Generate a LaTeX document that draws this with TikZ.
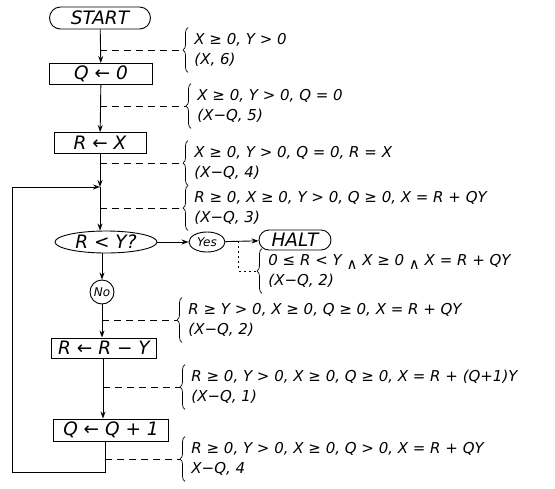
\documentclass[tikz,border=0pt]{standalone}
\usepackage{fontspec}
\setmainfont{DejaVu Sans}
\usetikzlibrary{arrows.meta,shapes.misc,shapes.geometric,decorations.pathreplacing}

% two lines of an assertion
\newcommand{\assert}[2]{\begin{tabular}{@{\hspace{11pt}}l@{}}#1\\#2\end{tabular}}
\newcommand{\wedgelow}{\raisebox{-4pt}{∧}}

\begin{document}
\begin{tikzpicture}[
  x=1pt,
  y=-1pt,
  line width=0.9pt,
  flow/.style={-{Stealth[length=7pt,width=5pt]}},
  box/.style={draw, minimum height=21pt, inner sep=2pt,
    font=\fontsize{18.5}{20}\selectfont\itshape},
  term/.style={draw, rounded rectangle, minimum height=22pt, inner sep=2pt,
    font=\fontsize{18.5}{20}\selectfont\itshape},
  test/.style={draw, ellipse, inner sep=0pt,
    font=\fontsize{18.5}{20}\selectfont\itshape},
  note/.style={anchor=west, inner sep=0pt,
    font=\fontsize{15}{20}\selectfont\itshape},
  noteline/.style={line width=0.7pt, dash pattern=on 7pt off 5pt},
  curly/.style={line width=0.7pt, decorate,
    decoration={brace, amplitude=5pt}}
]
  \useasboundingbox (0,0) rectangle (555,488);

  % flowchart
  \node[term, minimum width=105pt] (start) at (100,18) {START};
  \node[box, minimum width=103pt] (qzero) at (101,74) {Q ← 0};
  \node[box, minimum width=92pt] (rx) at (100,143) {R ← X};
  \coordinate (join) at (100,187);
  \node[test, minimum width=102pt, minimum height=22pt] (rlessy) at (106,242) {R < Y?};
  \node[test, minimum width=36pt, minimum height=20pt, font=\fontsize{12}{12}\selectfont\itshape] (yes) at (207,242) {Yes};
  \node[term, minimum width=76pt, minimum height=20pt] (halt) at (295,240) {HALT};
  \node[draw, circle, minimum size=24pt, inner sep=0pt, font=\fontsize{12}{12}\selectfont\itshape] (no) at (102,292) {No};
  \node[box, minimum width=105pt, minimum height=20pt] (rminus) at (104,348) {R ← R − Y};
  \node[box, minimum width=115pt, minimum height=22pt] (qplus) at (111,430) {Q ← Q + 1};
  \coordinate (loopbr) at (105,472);
  \coordinate (loopbl) at (12,472);
  \coordinate (looptl) at (12,187);

  \draw[flow] (start) -- (qzero);
  \draw[flow] (qzero) -- (rx);
  \draw[flow] (rx) -- (join);
  \draw[flow] (join) -- (join |- rlessy.north);
  \draw[flow] (rlessy) -- (yes);
  \draw[flow] (yes) -- (halt) coordinate[pos=0.4] (yh);
  \draw[flow] (rlessy.south -| no) -- (no);
  \draw[flow] (no) -- (rminus.north -| no);
  \draw[flow] (rminus.south -| 103,0) -- (qplus.north -| 103,0);
  \draw[flow] (qplus.south -| loopbr) -- (loopbr) -- (loopbl) -- (looptl) -- (join);

  % assertions
  \node[note] (a1) at (183,50) {\assert{X ≥ 0, Y > 0}{(X, 6)}};
  \node[note] (a2) at (186,106) {\assert{X ≥ 0, Y > 0, Q = 0}{(X−Q, 5)}};
  \node[note] (a3) at (183,163) {\assert{X ≥ 0, Y > 0, Q = 0, R = X}{(X−Q, 4)}};
  \node[note] (a4) at (183,208) {\assert{R ≥ 0, X ≥ 0, Y > 0, Q ≥ 0, X = R + QY}{(X−Q, 3)}};
  \node[note] (a5) at (257,271) {\assert{0 ≤ R < Y \wedgelow\ X ≥ 0 \wedgelow\ X = R + QY}{(X−Q, 2)}};
  \node[note] (a6) at (177,320) {\assert{R ≥ Y > 0, X ≥ 0, Q ≥ 0, X = R + QY}{(X−Q, 2)}};
  \node[note] (a7) at (180,387) {\assert{R ≥ 0, Y > 0, X ≥ 0, Q ≥ 0, X = R + (Q+1)Y}{(X−Q, 1)}};
  \node[note] (a8) at (180,459) {\assert{R ≥ 0, Y > 0, X ≥ 0, Q > 0, X = R + QY}{X−Q, 4}};

  \foreach \n in {a1,a2,a3,a4,a5,a6,a7,a8}
    \draw[curly] ([xshift=5pt,yshift=-2pt]\n.south west) -- ([xshift=5pt,yshift=2pt]\n.north west);

  \draw[noteline] (a1.west -| start) -- (a1.west);
  \draw[noteline] (a2.west -| start) -- (a2.west);
  \draw[noteline] (a3.west -| rx) -- (a3.west);
  \draw[noteline] (a4.west -| join) -- (a4.west);
  \draw[noteline, dash pattern=on 2pt off 3pt] (yh) -- (yh |- a5.west) -- (a5.west);
  \draw[noteline] (a6.west -| no) -- (a6.west);
  \draw[noteline] (a7.west -| 103,0) -- (a7.west);
  \draw[noteline] (a8.west -| loopbr) -- (a8.west);
\end{tikzpicture}
\end{document}
